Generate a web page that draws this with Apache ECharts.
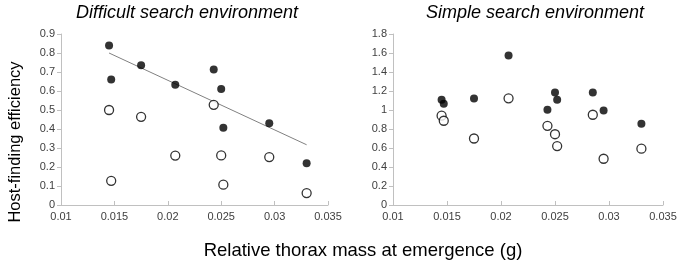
<!DOCTYPE html>
<html>
<head>
<meta charset="utf-8">
<script src="https://cdn.jsdelivr.net/npm/echarts@6/dist/echarts.min.js"></script>
<style>
  html, body { margin: 0; padding: 0; background: #fff; }
  #chart { width: 680px; height: 266px; }
</style>
</head>
<body>
<div id="chart"></div>
<script>
// thorax mass (g) for each female
var massAll = [0.0145, 0.0147, 0.0175, 0.0207, 0.0243, 0.0250, 0.0252, 0.0285, 0.0295, 0.0330];
// difficult search environment has no value at 0.0285
var massDifficult = [0.0145, 0.0147, 0.0175, 0.0207, 0.0243, 0.0250, 0.0252, 0.0295, 0.0330];

var difficultFilled = [0.84, 0.66, 0.735, 0.633, 0.713, 0.61, 0.406, 0.43, 0.22];
var difficultOpen = [0.50, 0.127, 0.464, 0.26, 0.527, 0.261, 0.107, 0.252, 0.063];

var simpleFilled = [1.109, 1.067, 1.12, 1.575, 1.003, 1.183, 1.109, 1.183, 0.996, 0.855];
var simpleOpen = [0.94, 0.887, 0.70, 1.123, 0.833, 0.745, 0.62, 0.95, 0.487, 0.593];

// fitted line, difficult environment filled points
var trendX = [0.0145, 0.0330];
var trendY = [0.80, 0.317];

function pairs(xs, ys) {
  return xs.map(function (x, i) { return [x, ys[i]]; });
}

var axisGrey = '#c0c0c0';
var labelCol = '#404040';

function xAxisDef(idx) {
  return {
    gridIndex: idx, type: 'value', min: 0.01, max: 0.035, interval: 0.005,
    splitLine: { show: false },
    axisLine: { lineStyle: { color: axisGrey } },
    axisTick: { inside: true, length: 4, lineStyle: { color: axisGrey } },
    axisLabel: { color: labelCol, fontSize: 11, fontFamily: 'Liberation Sans, Arial', margin: 6 }
  };
}
function yAxisDef(idx, max, step) {
  return {
    gridIndex: idx, type: 'value', min: 0, max: max, interval: step,
    splitLine: { show: false },
    axisLine: { show: true, lineStyle: { color: axisGrey } },
    axisTick: { show: true, length: 4, lineStyle: { color: axisGrey } },
    axisLabel: { color: labelCol, fontSize: 11, fontFamily: 'Liberation Sans, Arial', margin: 6 }
  };
}

var filledStyle = { color: '#000', borderColor: '#000', borderWidth: 0 };
var openStyle = { color: '#fff', borderColor: '#000', borderWidth: 1.3 };

var chart = echarts.init(document.getElementById('chart'));
chart.setOption({
  animation: false,
  textStyle: { fontFamily: 'Liberation Sans, Arial' },
  graphic: [
    { type: 'text', x: 187, y: 13,
      style: { text: 'Difficult search environment', fill: '#000', fontSize: 18, fontStyle: 'italic',
        fontFamily: 'Liberation Sans, Arial', align: 'center', verticalAlign: 'middle' } },
    { type: 'text', x: 535, y: 13,
      style: { text: 'Simple search environment', fill: '#000', fontSize: 18, fontStyle: 'italic',
        fontFamily: 'Liberation Sans, Arial', align: 'center', verticalAlign: 'middle' } },
    { type: 'text', x: 15, y: 142, rotation: Math.PI / 2,
      style: { text: 'Host-finding efficiency', fill: '#000', fontSize: 16.5,
        fontFamily: 'Liberation Sans, Arial', align: 'center', verticalAlign: 'middle' } },
    { type: 'text', x: 363, y: 251,
      style: { text: 'Relative thorax mass at emergence (g)', fill: '#000', fontSize: 18.5,
        fontFamily: 'Liberation Sans, Arial', align: 'center', verticalAlign: 'middle' } }
  ],
  grid: [
    { left: 61, right: 352, top: 34, bottom: 61 },
    { left: 393, right: 17, top: 34, bottom: 61 }
  ],
  xAxis: [xAxisDef(0), xAxisDef(1)],
  yAxis: [yAxisDef(0, 0.9, 0.1), yAxisDef(1, 1.8, 0.2)],
  series: [
    { type: 'line', xAxisIndex: 0, yAxisIndex: 0, data: pairs(trendX, trendY),
      symbol: 'none', lineStyle: { color: '#808080', width: 1 }, z: 1 },
    { type: 'scatter', xAxisIndex: 0, yAxisIndex: 0, data: pairs(massDifficult, difficultFilled),
      symbolSize: 8, itemStyle: filledStyle, z: 3 },
    { type: 'scatter', xAxisIndex: 0, yAxisIndex: 0, data: pairs(massDifficult, difficultOpen),
      symbolSize: 9, itemStyle: openStyle, z: 3 },
    { type: 'scatter', xAxisIndex: 1, yAxisIndex: 1, data: pairs(massAll, simpleFilled),
      symbolSize: 8, itemStyle: filledStyle, z: 3 },
    { type: 'scatter', xAxisIndex: 1, yAxisIndex: 1, data: pairs(massAll, simpleOpen),
      symbolSize: 9, itemStyle: openStyle, z: 3 }
  ]
});
</script>
</body>
</html>
